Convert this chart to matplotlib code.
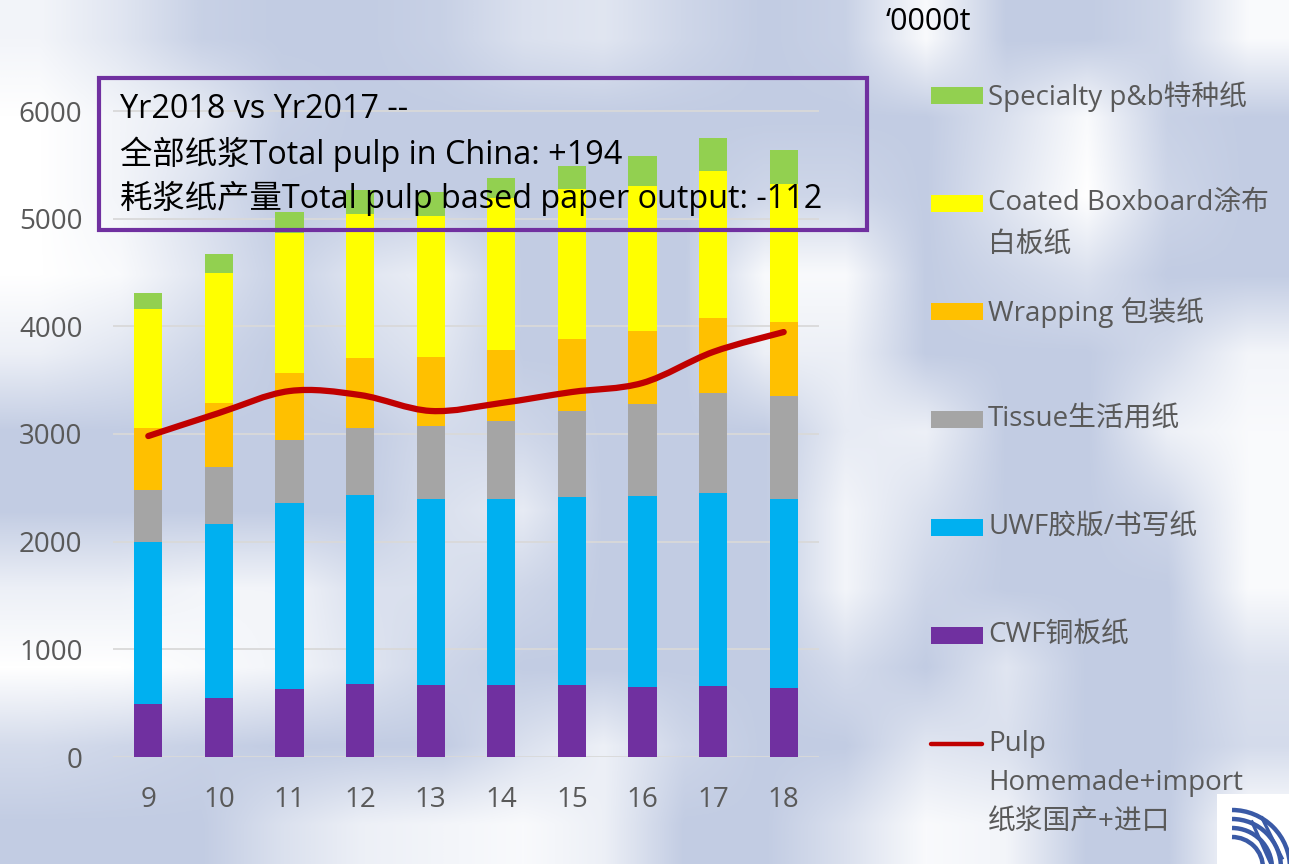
import numpy as np
import matplotlib
matplotlib.use("Agg")
import matplotlib.pyplot as plt
from matplotlib.path import Path
from matplotlib.patches import PathPatch, Rectangle, Arc
from matplotlib.lines import Line2D
from matplotlib.colors import LinearSegmentedColormap

# ---------------- data ----------------
years = ['9', '10', '11', '12', '13', '14', '15', '16', '17', '18']
cwf = [490, 548, 632, 678, 669, 669, 669, 650, 659, 641]
uwf = [1507, 1616, 1727, 1755, 1727, 1727, 1746, 1774, 1793, 1755]
tissue = [483, 529, 585, 623, 678, 725, 798, 855, 929, 957]
wrapping = [576, 595, 622, 650, 641, 659, 669, 678, 696, 687]
coated = [1105, 1207, 1301, 1337, 1310, 1412, 1393, 1346, 1366, 1282]
specialty = [149, 177, 195, 223, 223, 186, 214, 279, 306, 316]
pulp = [2981, 3195, 3399, 3362, 3214, 3288, 3390, 3474, 3762, 3947]
yticks = [0, 1000, 2000, 3000, 4000, 5000, 6000]

series_names = ['CWF铜板纸', 'UWF胶版/书写纸', 'Tissue生活用纸', 'Wrapping 包装纸',
                'Coated Boxboard涂布\n白板纸', 'Specialty p&b特种纸']
series_vals = [cwf, uwf, tissue, wrapping, coated, specialty]
series_cols = ['#7030a0', '#00b0f0', '#a5a5a5', '#ffc000', '#ffff00', '#92d050']
pulp_label = 'Pulp\nHomemade+import\n纸浆国产+进口'
box_lines = ['Yr2018 vs Yr2017 --',
             '全部纸浆Total pulp in China: +194',
             '耗浆纸产量Total pulp based paper output: -112']
unit_text = '‘0000t'

FAM = ['Open Sans', 'Noto Sans CJK SC']
W, H = 1289, 864

fig = plt.figure(figsize=(W / 100, H / 100), dpi=100)
fig.patch.set_facecolor('white')

# ---------------- background watermark (decoration) ----------------
bg = np.array([
    [0.2, 0.5, 0.9, 1.0, 1.0, 0.9, 0.6, 0.5, 0.8, 1.0, 0.9, 0.1, 1.0, 1.0, 0.8, 0.1],
    [0.0, 0.2, 0.4, 0.9, 1.0, 1.0, 1.0, 1.0, 1.0, 1.0, 1.0, 1.0, 0.6, 0.1, 0.9, 1.0],
    [0.0, 0.2, 0.6, 1.0, 1.0, 1.0, 1.0, 1.0, 1.0, 0.8, 0.8, 1.0, 0.5, 0.0, 0.8, 1.0],
    [0.0, 0.1, 0.5, 0.9, 0.5, 0.3, 1.0, 1.0, 1.0, 0.1, 0.1, 1.0, 0.8, 0.6, 1.0, 1.0],
    [0.3, 0.5, 0.8, 1.0, 0.7, 0.5, 1.0, 1.0, 1.0, 0.3, 0.3, 1.0, 1.0, 1.0, 0.7, 0.2],
    [1.0, 1.0, 1.0, 1.0, 1.0, 0.7, 0.8, 1.0, 1.0, 1.0, 0.4, 0.3, 1.0, 1.0, 0.3, 0.1],
    [1.0, 1.0, 1.0, 1.0, 1.0, 0.6, 0.4, 1.0, 1.0, 1.0, 0.2, 0.6, 1.0, 1.0, 0.8, 0.1],
    [0.3, 0.3, 0.2, 0.2, 0.6, 0.6, 0.8, 1.0, 1.0, 1.0, 0.2, 0.8, 1.0, 1.0, 1.0, 0.1],
    [0.0, 0.0, 0.1, 0.2, 0.5, 0.8, 1.0, 1.0, 1.0, 1.0, 0.7, 1.0, 0.5, 1.0, 1.0, 0.6],
    [0.7, 0.8, 0.9, 1.0, 1.0, 1.0, 0.6, 0.3, 0.8, 1.0, 1.0, 0.5, 0.6, 1.0, 1.0, 0.7],
    [1.0, 1.0, 1.0, 0.6, 0.3, 0.2, 0.1, 0.3, 1.0, 1.0, 0.6, 0.1, 0.2, 1.0, 1.0, 0.0],
])
bg_ax = fig.add_axes([0, 0, 1, 1], zorder=-10)
bg_cmap = LinearSegmentedColormap.from_list('wm', ['#ffffff', '#c2cce3'])
bg_ax.imshow(bg, cmap=bg_cmap, vmin=0, vmax=1, interpolation='bilinear',
             extent=[0, 1, 0, 1], aspect='auto')
bg_ax.set_axis_off()

# ---------------- main axes ----------------
ymax = 6400
ax_left, ax_right, ax_bottom = 113, 819, 757
ax_top = ax_bottom - ymax * (757 - 111) / 6000
ax = fig.add_axes([ax_left / W, 1 - ax_bottom / H,
                   (ax_right - ax_left) / W, (ax_bottom - ax_top) / H], zorder=1)
ax.set_facecolor('none')

x = np.arange(len(years))
bottom = np.zeros(len(years))
for vals, col in zip(series_vals, series_cols):
    ax.bar(x, vals, width=0.4, bottom=bottom, color=col, edgecolor='none', zorder=2)
    bottom += np.array(vals)

# smoothed pulp line (Catmull-Rom -> cubic Bezier)
px = x.astype(float)
py = np.array(pulp, dtype=float)
pts = np.column_stack([px, py])
ext = np.vstack([pts[0], pts, pts[-1]])
verts = [tuple(pts[0])]
codes = [Path.MOVETO]
for i in range(len(pts) - 1):
    p0, p1, p2, p3 = ext[i], ext[i + 1], ext[i + 2], ext[i + 3]
    c1 = p1 + (p2 - p0) / 6.0
    c2 = p2 - (p3 - p1) / 6.0
    verts += [tuple(c1), tuple(c2), tuple(p2)]
    codes += [Path.CURVE4] * 3
ax.add_patch(PathPatch(Path(verts, codes), fill=False, edgecolor='#c00000',
                       lw=4.5, capstyle='round', joinstyle='round', zorder=3))

ax.set_xlim(-0.5, len(years) - 0.5)
ax.set_ylim(0, ymax)
ax.set_yticks(yticks)
ax.set_yticklabels([str(v) for v in yticks])
ax.set_xticks(x)
ax.set_xticklabels(years)
ax.yaxis.grid(True, color='#d9d9d9', lw=1.3)
ax.set_axisbelow(True)
for s in ax.spines.values():
    s.set_visible(False)
ax.tick_params(axis='both', length=0, labelsize=20, labelcolor='#595959')
ax.tick_params(axis='y', pad=22)
ax.tick_params(axis='x', pad=21)
for lab in ax.get_xticklabels() + ax.get_yticklabels():
    lab.set_family(FAM)

# ---------------- annotation box ----------------
fig.patches.append(Rectangle((99 / W, 1 - 230 / H), (867 - 99) / W, (230 - 78) / H,
                             transform=fig.transFigure, fill=False,
                             edgecolor='#7030a0', lw=3, zorder=5))
for i, line in enumerate(box_lines):
    fig.text(120 / W, 1 - (110 + 44 * i) / H, line, family=FAM, fontsize=23.3,
             color='black', va='center', ha='left', zorder=6)

fig.text(886 / W, 1 - 22 / H, unit_text, family=FAM, fontsize=22,
         color='black', va='center', ha='left')

# ---------------- legend (manual, top to bottom) ----------------
leg_labels = list(reversed(series_names)) + [pulp_label]
leg_cols = list(reversed(series_cols)) + ['#c00000']
for i, (lab, col) in enumerate(zip(leg_labels, leg_cols)):
    yc = 95 + 108.1 * i
    if i < len(series_names):
        fig.patches.append(Rectangle((931 / W, 1 - (yc + 8.5) / H), 52 / W, 17 / H,
                                     transform=fig.transFigure, facecolor=col,
                                     edgecolor='none', zorder=5))
    else:
        fig.lines.append(Line2D([931 / W, 982 / W], [1 - yc / H, 1 - yc / H],
                                transform=fig.transFigure, color=col, lw=3.2,
                                solid_capstyle='round', zorder=5))
    ls = 1.55 if i == len(series_names) else 1.68
    fig.text(988 / W, 1 - (yc - 14) / H, lab, family=FAM, fontsize=20,
             color='#595959', va='top', ha='left', linespacing=ls, zorder=6)

# ---------------- small logo (decoration) ----------------
fig.patches.append(Rectangle((1217 / W, 0), (W - 1217) / W, (864 - 794) / H,
                             transform=fig.transFigure, facecolor='white',
                             edgecolor='none', zorder=4))
logo_ax = fig.add_axes([1217 / W, 0, (W - 1217) / W, (864 - 794) / H], zorder=5)
logo_ax.set_xlim(1217, W)
logo_ax.set_ylim(864, 794)
logo_ax.set_axis_off()
for r in [58, 49, 40, 31]:
    logo_ax.add_patch(Arc((1232, 868), 2 * r, 2 * r, theta1=270, theta2=360,
                          color='#3a5aa6', lw=3.2))
logo_ax.plot([1262, 1282], [818, 858], color='#3a5aa6', lw=2.4)
logo_ax.plot([1252, 1270], [822, 862], color='#3a5aa6', lw=2.4)

fig.savefig('out.png', dpi=100, facecolor='white')
